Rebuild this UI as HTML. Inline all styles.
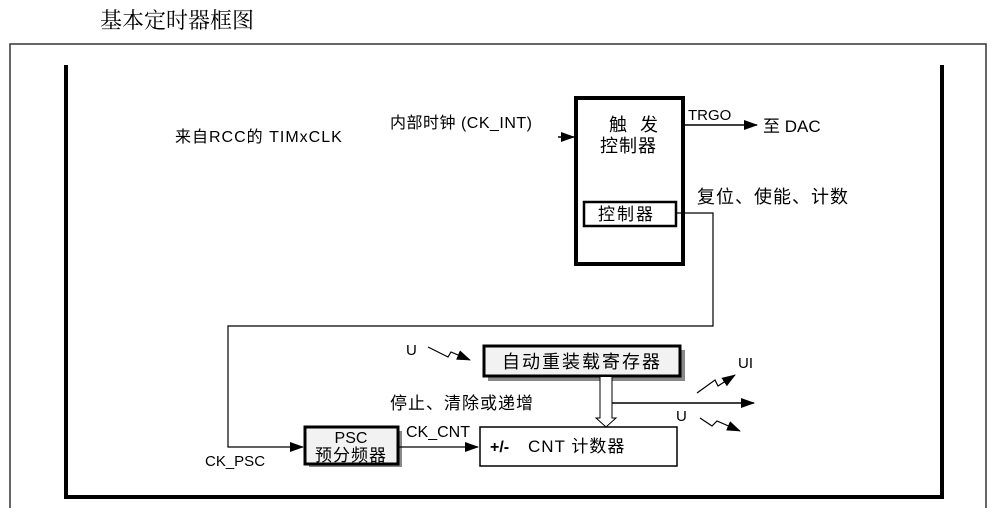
<!DOCTYPE html>
<html><head><meta charset="utf-8"><style>
body{margin:0;background:#fff;}
svg text{font-family:"Liberation Sans","Noto Sans CJK SC",sans-serif;fill:#000;}
</style></head><body>
<svg width="995" height="508" viewBox="0 0 995 508" xmlns="http://www.w3.org/2000/svg">
<defs><marker id="a" markerWidth="14" markerHeight="10" refX="13" refY="5" orient="auto" markerUnits="userSpaceOnUse"><path d="M0,0 L14,5 L0,10z" fill="#000"/></marker></defs>
<text x="100" y="28" font-size="22" style="font-family:'Noto Serif CJK SC',serif" fill="#333">基本定时器框图</text>
<path d="M10,508 V44 H986 V508" fill="none" stroke="#333" stroke-width="1.5"/>
<path d="M66,65 V497 H942 V65" fill="none" stroke="#000" stroke-width="4"/>
<text x="175" y="142" font-size="16" letter-spacing="1">来自RCC的 TIMxCLK</text>
<text x="390" y="128" font-size="16" letter-spacing="0.5">内部时钟 (CK_INT)</text>
<line x1="558" y1="137" x2="574" y2="137" stroke="#000" stroke-width="1.5" marker-end="url(#a)"/>
<rect x="576" y="98" width="107" height="166" fill="#fff" stroke="#000" stroke-width="4"/>
<text x="609" y="131" font-size="18" letter-spacing="4">触 发</text>
<text x="600" y="152" font-size="18" letter-spacing="1">控制器</text>
<rect x="584" y="202" width="92" height="24" fill="#fff" stroke="#000" stroke-width="2.5"/>
<text x="598" y="220" font-size="17" letter-spacing="2">控制器</text>
<text x="688" y="120" font-size="15">TRGO</text>
<line x1="685" y1="125" x2="757" y2="125" stroke="#000" stroke-width="1.5" marker-end="url(#a)"/>
<text x="763" y="132" font-size="17">至 DAC</text>
<text x="697" y="203" font-size="18" letter-spacing="1">复位、使能、计数</text>
<path d="M676,213 H713 V326 H228 V447 H303" fill="none" stroke="#000" stroke-width="1.2" marker-end="url(#a)"/>
<text x="205" y="466" font-size="15">CK_PSC</text>
<rect x="309" y="431" width="93" height="36" fill="#888"/>
<rect x="305" y="427" width="93" height="37" fill="#f2f2f2" stroke="#000" stroke-width="3"/>
<text x="351" y="443" font-size="16" text-anchor="middle">PSC</text>
<text x="351" y="461" font-size="17" text-anchor="middle" letter-spacing="1">预分频器</text>
<text x="406" y="437" font-size="16">CK_CNT</text>
<line x1="398" y1="447" x2="478" y2="447" stroke="#000" stroke-width="1.2" marker-end="url(#a)"/>
<rect x="480" y="427" width="197" height="39" fill="#fff" stroke="#000" stroke-width="1.5"/>
<text x="490" y="452" font-size="16" font-weight="bold">+/-</text>
<text x="528" y="452" font-size="17" letter-spacing="1">CNT 计数器</text>
<rect x="488" y="350" width="197" height="31" fill="#888"/>
<rect x="484" y="346" width="196" height="30" fill="#f2f2f2" stroke="#000" stroke-width="3"/>
<text x="582" y="368" font-size="18" text-anchor="middle" letter-spacing="2">自动重装载寄存器</text>
<text x="406" y="355" font-size="15">U</text>
<path d="M428,347 L448,357 L451,352 L470,360" fill="none" stroke="#000" stroke-width="1.2" marker-end="url(#a)"/>
<text x="390" y="409" font-size="17" letter-spacing="1">停止、清除或递增</text>
<path d="M600,377 V418 H596 L606,427 L616,418 H612 V377" fill="#fff" stroke="#000" stroke-width="1"/>
<line x1="612" y1="403" x2="754" y2="403" stroke="#000" stroke-width="1.5" marker-end="url(#a)"/>
<text x="738" y="368" font-size="15">UI</text>
<path d="M697,393 L715,380 L718,386 L735,375" fill="none" stroke="#000" stroke-width="1.2" marker-end="url(#a)"/>
<text x="676" y="421" font-size="15">U</text>
<path d="M700,418 L712,426 L717,421 L740,431" fill="none" stroke="#000" stroke-width="1.2" marker-end="url(#a)"/>
</svg>
</body></html>
